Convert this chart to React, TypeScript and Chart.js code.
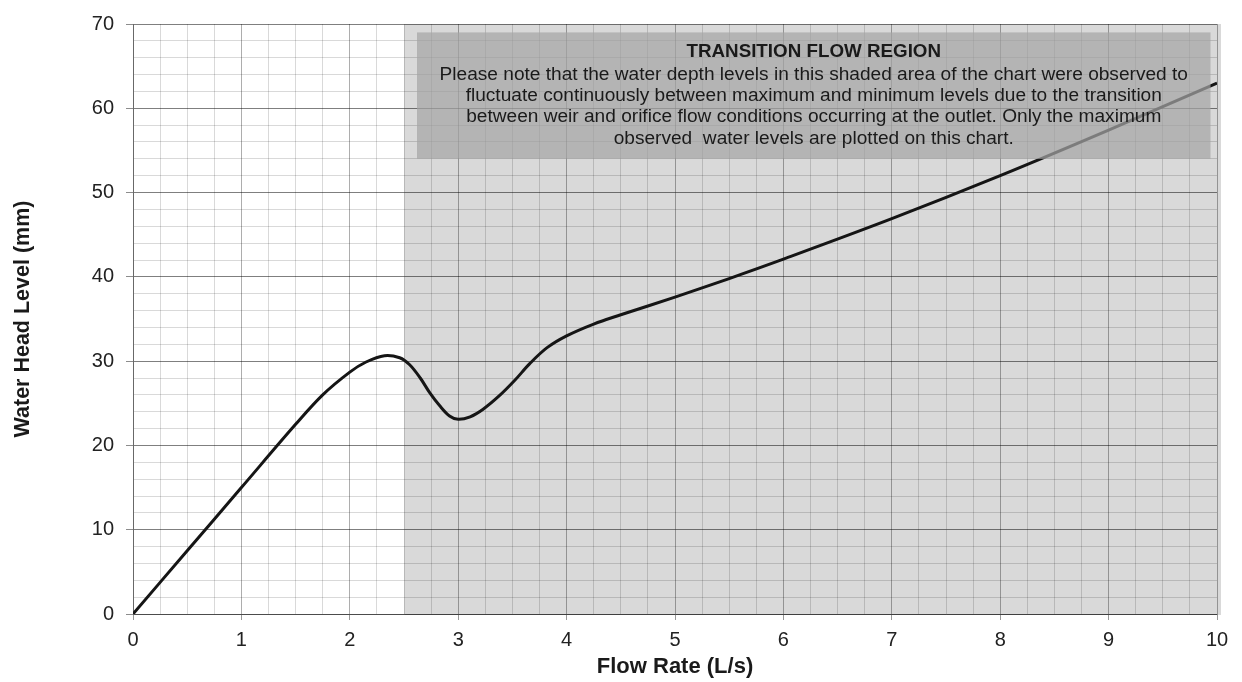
import React, { useEffect, useRef } from "react";
import { Chart, registerables } from "chart.js";

Chart.register(...registerables);

// ---- data ----
const flowRate = [0, 0.5, 1, 1.5, 1.75, 2, 2.15, 2.32, 2.46, 2.55, 2.65, 2.74, 2.83, 2.92, 3, 3.11, 3.23, 3.38, 3.52, 3.66, 3.82, 4, 4.25, 4.5, 5, 5.5, 6, 7, 8, 9, 10];
const headLevel = [0, 7.5, 15.0, 22.5, 26.0, 28.7, 29.9, 30.65, 30.4, 29.6, 28.0, 26.2, 24.7, 23.5, 23.1, 23.4, 24.3, 25.9, 27.7, 29.7, 31.6, 33.0, 34.4, 35.5, 37.6, 39.8, 42.1, 46.9, 52.0, 57.4, 63.0];

const xTitle = "Flow Rate (L/s)";
const yTitle = "Water Head Level (mm)";
const transitionStart = 2.5;
const noteBoxX = [2.62, 9.94];
const noteBoxY = [54, 69];
const noteTitle = "TRANSITION FLOW REGION";
const noteLines = [
  "Please note that the water depth levels in this shaded area of the chart were observed to",
  "fluctuate continuously between maximum and minimum levels due to the transition",
  "between weir and orifice flow conditions occurring at the outlet. Only the maximum",
  "observed  water levels are plotted on this chart.",
];

const FONT = "'Liberation Sans', Arial, Helvetica, sans-serif";

const regionPlugin = {
  id: "transitionRegion",
  beforeDraw(chart: any) {
    const { ctx, chartArea, scales } = chart;
    const x0 = scales.x.getPixelForValue(transitionStart);
    ctx.save();
    ctx.fillStyle = "#d9d9d9";
    ctx.fillRect(x0, chartArea.top, chartArea.right + 4 - x0, chartArea.bottom - chartArea.top + 1);
    ctx.restore();
  },
  afterDatasetsDraw(chart: any) {
    const { ctx, scales } = chart;
    const left = scales.x.getPixelForValue(noteBoxX[0]);
    const right = scales.x.getPixelForValue(noteBoxX[1]);
    const top = scales.y.getPixelForValue(noteBoxY[1]);
    const bottom = scales.y.getPixelForValue(noteBoxY[0]);
    ctx.save();
    ctx.fillStyle = "rgba(165,165,165,0.72)";
    ctx.fillRect(left, top, right - left, bottom - top);
    const cx = (left + right) / 2;
    ctx.fillStyle = "#1a1a1a";
    ctx.textAlign = "center";
    ctx.textBaseline = "alphabetic";
    ctx.font = `bold 18.8px ${FONT}`;
    ctx.fillText(noteTitle, cx, top + 24.7);
    ctx.font = `19.1px ${FONT}`;
    const offs = [48, 68.8, 89.8, 111.3];
    noteLines.forEach((l, i) => ctx.fillText(l, cx, top + offs[i]));
    ctx.restore();
  },
};

export default function App() {
  const ref = useRef<HTMLCanvasElement | null>(null);
  useEffect(() => {
    if (!ref.current) return;
    const chart = new Chart(ref.current, {
      type: "line",
      data: {
        datasets: [
          {
            data: flowRate.map((x, i) => ({ x, y: headLevel[i] })),
            borderColor: "#151515",
            borderWidth: 3,
            pointRadius: 0,
            tension: 0.35,
            fill: false,
          },
        ],
      },
      options: {
        responsive: false,
        animation: false,
        events: [],
        layout: { padding: { left: 0, top: 21, right: 25, bottom: 0 } },
        plugins: { legend: { display: false }, tooltip: { enabled: false }, title: { display: false } },
        scales: {
          x: {
            type: "linear",
            min: 0,
            max: 10,
            afterFit: (s: any) => { s.height = 68; },
            ticks: {
              stepSize: 0.25,
              autoSkip: false,
              maxRotation: 0,
              padding: 8,
              color: "#222",
              font: { family: FONT, size: 20 },
              callback: (v: any) => (Number.isInteger(v) ? String(v) : ""),
            },
            grid: {
              color: (c: any) => (c.tick && Number.isInteger(c.tick.value) ? "rgba(0,0,0,0.32)" : "rgba(0,0,0,0.15)"),
              tickColor: (c: any) => (c.tick && Number.isInteger(c.tick.value) ? "rgba(0,0,0,0.4)" : "rgba(0,0,0,0)"),
              tickLength: 6,
              lineWidth: 1,
            },
            border: { color: "rgba(0,0,0,0.4)" },
            title: {
              display: true,
              text: xTitle,
              color: "#1a1a1a",
              font: { family: FONT, size: 22, weight: "bold" },
              padding: { top: 0, bottom: 2 },
            },
          },
          y: {
            type: "linear",
            min: 0,
            max: 70,
            afterFit: (s: any) => { s.width = 133; },
            ticks: {
              stepSize: 2,
              autoSkip: false,
              padding: 12,
              color: "#222",
              font: { family: FONT, size: 20 },
              callback: (v: any) => (v % 10 === 0 ? String(v) : ""),
            },
            grid: {
              color: (c: any) => (c.tick && c.tick.value % 10 === 0 ? "rgba(0,0,0,0.5)" : "rgba(0,0,0,0.15)"),
              tickColor: (c: any) => (c.tick && c.tick.value % 10 === 0 ? "rgba(0,0,0,0.45)" : "rgba(0,0,0,0)"),
              tickLength: 7,
              lineWidth: 1,
            },
            border: { color: "rgba(0,0,0,0.4)" },
            title: {
              display: true,
              text: yTitle,
              color: "#1a1a1a",
              font: { family: FONT, size: 21.5, weight: "bold" },
              padding: { top: 10, bottom: 0 },
            },
          },
        },
      },
      plugins: [regionPlugin],
    } as any);
    return () => chart.destroy();
  }, []);
  return (
    <div style={{ position: "fixed", left: 0, top: 0, width: 1242, height: 682, background: "#fff" }}>
      <canvas ref={ref} width={1242} height={682} style={{ display: "block" }} />
    </div>
  );
}
